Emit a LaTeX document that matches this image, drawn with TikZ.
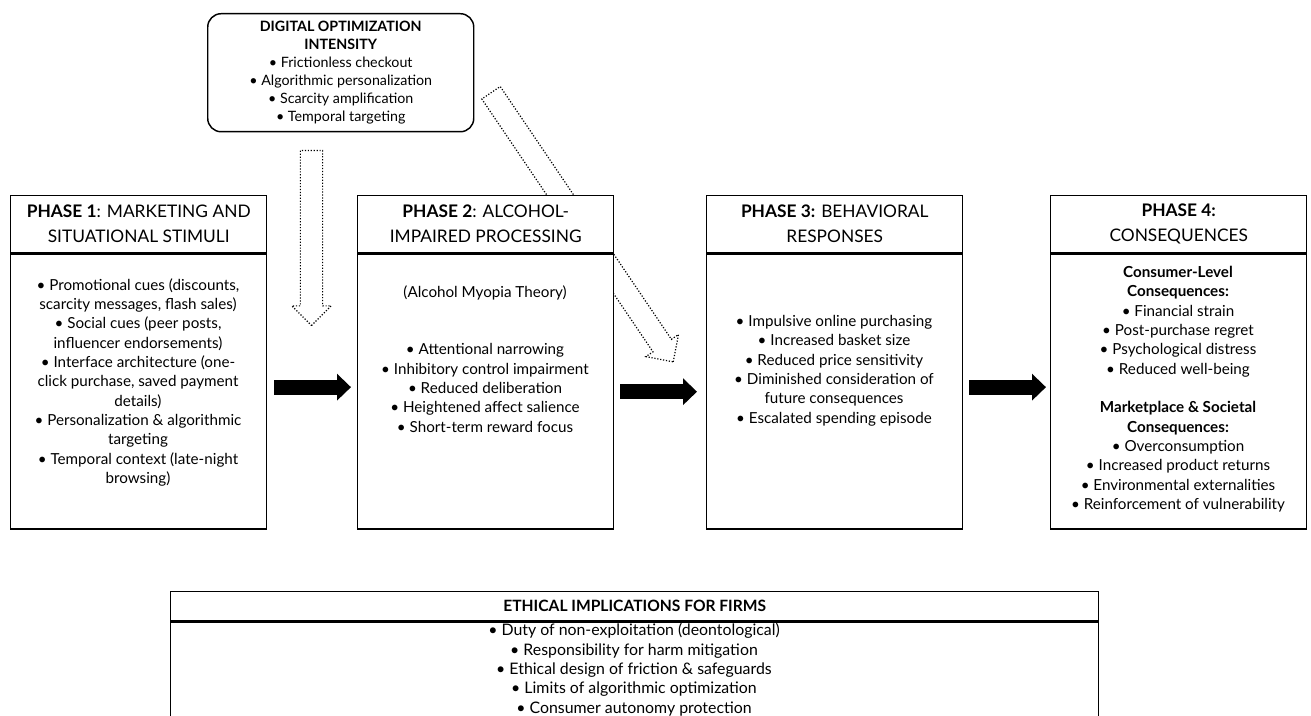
\documentclass[tikz,border=0pt]{standalone}
\usepackage{fontspec}
\setmainfont{Lato}
\usetikzlibrary{arrows.meta,positioning,shapes.arrows}
\tikzset{
  headbox/.style={draw,line width=1.1pt,fill=white,minimum width=192pt,minimum height=42.75pt,align=center,inner sep=0pt,font=\fontsize{13}{18.75}\selectfont},
  bodybox/.style={draw,line width=1.1pt,fill=white,minimum width=192pt,minimum height=206.25pt,inner sep=0pt},
  bodytext/.style={align=center,inner sep=0pt,font=\fontsize{11.4}{14.5}\selectfont},
  bigar/.style={line width=11.25pt,-{Triangle[length=10.5pt,width=19.5pt]}},
  dotarrow/.style={single arrow,draw,line width=0.9pt,dash pattern=on 0.9pt off 1.3pt,inner sep=0pt,inner ysep=7.9pt,single arrow head extend=6.4pt,single arrow tip angle=90,minimum width=0pt},
}
\begin{document}
\begin{tikzpicture}[x=0.75pt,y=-0.75pt]
\useasboundingbox (0,0) rectangle (1311,716);
\node[draw,line width=1.1pt,rounded corners=10pt,minimum width=199.5pt,minimum height=88.5pt,align=center,inner sep=0pt,anchor=north west,font=\fontsize{10.7}{13.5}\selectfont] (doi) at (207,13)
  {\textbf{DIGITAL OPTIMIZATION}\\\textbf{INTENSITY}\\• Frictionless checkout\\• Algorithmic personalization\\• Scarcity amplification\\• Temporal targeting};
\node[dotarrow,minimum height=131.25pt,rotate=-90] (dv) at (311.5,232.5) {};
\node[dotarrow,minimum height=243.75pt,rotate=-55.9] (dd) at (579,222.7) {};
\node[headbox,anchor=north west] (h1) at (10,195) {\textbf{PHASE 1}: MARKETING AND\\SITUATIONAL STIMULI};
\node[bodybox,anchor=north] (b1) at (h1.south) {};
\node[headbox,anchor=north west] (h2) at (357,195) {\textbf{PHASE 2}: ALCOHOL-\\IMPAIRED PROCESSING};
\node[bodybox,anchor=north] (b2) at (h2.south) {};
\node[headbox,anchor=north west] (h3) at (706,195) {\textbf{PHASE 3:} BEHAVIORAL\\RESPONSES};
\node[bodybox,anchor=north] (b3) at (h3.south) {};
\node[headbox,anchor=north west] (h4) at (1050,195) {\textbf{PHASE 4:}\\CONSEQUENCES};
\node[bodybox,anchor=north] (b4) at (h4.south) {};
\node[bodytext,anchor=north] (t1) at (138,278) {• Promotional cues (discounts,\\scarcity messages, flash sales)\\• Social cues (peer posts,\\influencer endorsements)\\• Interface architecture (one-\\click purchase, saved payment\\details)\\• Personalization \& algorithmic\\targeting\\• Temporal context (late-night\\browsing)};
\node[bodytext,anchor=north] (t2) at (485,285) {(Alcohol Myopia Theory)\\[28.8pt]• Attentional narrowing\\• Inhibitory control impairment\\• Reduced deliberation\\• Heightened affect salience\\• Short-term reward focus};
\node[bodytext,anchor=north] (t3) at (834,315) {• Impulsive online purchasing\\• Increased basket size\\• Reduced price sensitivity\\• Diminished consideration of\\future consequences\\• Escalated spending episode};
\node[bodytext,anchor=north] (t4) at (1178,266) {\textbf{Consumer-Level}\\\textbf{Consequences:}\\• Financial strain\\• Post-purchase regret\\• Psychological distress\\• Reduced well-being\\[14.5pt]\textbf{Marketplace \& Societal}\\\textbf{Consequences:}\\• Overconsumption\\• Increased product returns\\• Environmental externalities\\• Reinforcement of vulnerability};
\draw[bigar,shorten <=5.25pt,shorten >=4.5pt] ([yshift=3.4pt]b1.east) -- ([yshift=3.4pt]b2.west);
\draw[bigar,shorten <=4.5pt,shorten >=6.75pt] (b2.east) -- (b3.west);
\draw[bigar,shorten <=4.5pt,shorten >=3pt] ([yshift=3.4pt]b3.east) -- ([yshift=3.4pt]b4.west);
\node[headbox,anchor=north west,minimum width=696pt,minimum height=21.75pt,font=\bfseries\fontsize{11.7}{14.5}\selectfont] (he) at (170,591) {ETHICAL IMPLICATIONS FOR FIRMS};
\node[bodybox,anchor=north,minimum width=696pt,minimum height=90pt] (be) at (he.south) {};
\node[bodytext,anchor=north,font=\fontsize{11.9}{14.6}\selectfont] (te) at (634,623) {• Duty of non-exploitation (deontological)\\• Responsibility for harm mitigation\\• Ethical design of friction \& safeguards\\• Limits of algorithmic optimization\\• Consumer autonomy protection};
\end{tikzpicture}
\end{document}
